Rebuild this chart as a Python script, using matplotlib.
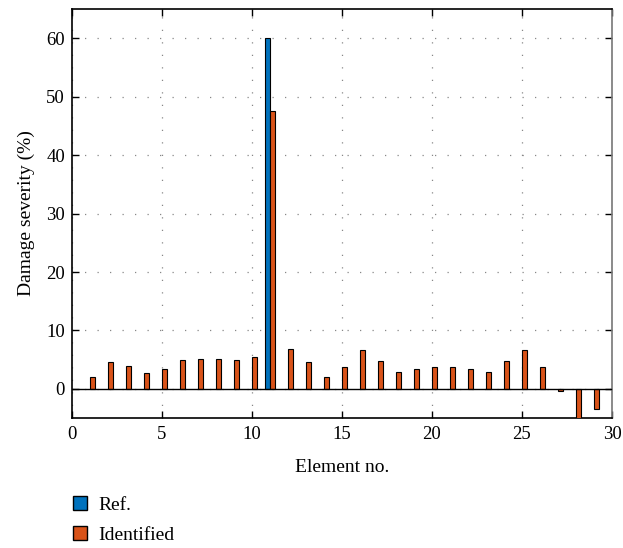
import matplotlib.pyplot as plt
import numpy as np
from matplotlib.patches import Patch

plt.rcParams['font.family'] = ['Liberation Serif', 'DejaVu Serif']

# Damage severity per element (%)
elements = np.arange(1, 30)
ref = [0, 0, 0, 0, 0, 0, 0, 0, 0, 0, 60, 0, 0, 0, 0,
       0, 0, 0, 0, 0, 0, 0, 0, 0, 0, 0, 0, 0, 0]
identified = [2.1, 4.6, 3.9, 2.7, 3.4, 5.0, 5.2, 5.2, 5.0, 5.5, 47.6, 6.9, 4.6, 2.1, 3.8,
              6.6, 4.7, 2.9, 3.4, 3.8, 3.8, 3.4, 2.9, 4.7, 6.6, 3.8, -0.3, -5.3, -3.5]

blue = '#0072BD'
orange = '#D95319'

fig = plt.figure(figsize=(6.23, 5.48), dpi=100)
ax = fig.add_axes([0.1156, 0.237, 0.8667, 0.7466])

# grouped bars: Ref. on the left, Identified on the right of each element
off, w = 0.15, 0.28
ref_x = [x - off for x, v in zip(elements, ref) if v != 0]
ref_v = [v for v in ref if v != 0]
ax.bar(ref_x, ref_v, width=w, color=blue, edgecolor='black', linewidth=0.8, zorder=3)
ax.bar(elements + off, identified, width=w, color=orange, edgecolor='black', linewidth=0.8, zorder=3)

ax.axhline(0, color='black', lw=1.0, zorder=4)   # bar baseline

ax.set_xlim(0, 30)
ax.set_ylim(-5, 65)
ax.set_xticks(np.arange(0, 31, 5))
ax.set_yticks(np.arange(0, 61, 10))
ax.grid(True, color='#888888', ls=(0, (1, 9)), lw=0.9, zorder=0)
ax.tick_params(direction='in', top=True, right=True, length=5, width=1, labelsize=13.5)
ax.tick_params(axis='x', pad=6)
ax.tick_params(axis='y', pad=5)
for s in ax.spines.values():
    s.set_linewidth(1.2)
ax.spines['right'].set_color('#777777')

ax.set_xlabel('Element no.', fontsize=14, labelpad=11)
ax.set_ylabel('Damage severity (%)', fontsize=14, labelpad=8)

handles = [Patch(facecolor=blue, edgecolor='black', label='Ref.'),
           Patch(facecolor=orange, edgecolor='black', label='Identified')]
fig.legend(handles=handles, loc='lower left', bbox_to_anchor=(0.117, 0.008),
           frameon=False, fontsize=14, handlelength=0.75, handleheight=0.75,
           handletextpad=0.55, labelspacing=0.6, borderaxespad=0, borderpad=0)

fig.savefig('out.png', dpi=100)
